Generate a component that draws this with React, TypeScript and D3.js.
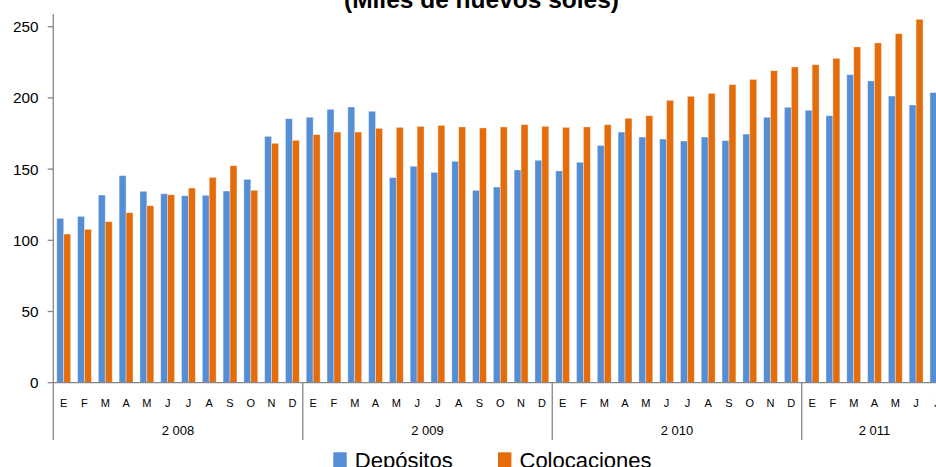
import React from "react";
import * as d3 from "d3";

const months = ["E", "F", "M", "A", "M", "J", "J", "A", "S", "O", "N", "D"];
const years = ["2 008", "2 009", "2 010", "2 011"];
const monthsPerYear = [12, 12, 12, 7];
const yTicks = [0, 50, 100, 150, 200, 250];
const seriesNames = ["Depósitos", "Colocaciones"];

const depositos = [
  115.4, 116.8, 131.8, 145.4, 134.4, 132.7, 131.3, 131.6, 134.6, 142.8, 173.0, 185.4,
  186.4, 192.0, 193.6, 190.6, 144.0, 152.0, 147.7, 155.5, 135.1, 137.4, 149.4, 156.2,
  148.7, 154.8, 166.6, 176.0, 172.5, 171.1, 169.7, 172.5, 170.0, 174.6, 186.4, 193.4,
  191.3, 187.5, 216.3, 211.9, 201.3, 195.0, 203.7,
];
const colocaciones = [
  104.4, 107.7, 113.1, 119.4, 124.3, 132.0, 136.7, 144.2, 152.4, 135.1, 168.1, 170.2,
  174.2, 176.0, 176.0, 178.6, 179.3, 180.0, 180.7, 179.6, 178.9, 179.6, 181.2, 180.0,
  179.3, 179.6, 181.2, 185.7, 187.5, 198.3, 201.1, 203.2, 209.3, 213.0, 219.1, 221.7,
  223.3, 227.8, 235.8, 238.6, 245.1, 255.2, 258.0,
];

const W = 936;
const H = 467;
const colors = ["#558ED5", "#E46C0A"];
const axisColor = "#868686";
const font = "'Liberation Sans', Arial, sans-serif";

export default function App() {
  const n = depositos.length;
  const left = 53.3;
  const step = 20.79;
  const right = left + n * step;
  const y0 = 382.7;
  const yTop = 26.7;

  const x = d3
    .scaleBand<number>()
    .domain(d3.range(n))
    .range([left, right])
    .paddingInner(1 / 3)
    .paddingOuter(1 / 6);
  const xs = d3.scaleBand<number>().domain([0, 1]).range([0, x.bandwidth()]);
  const y = d3.scaleLinear().domain([0, 250]).range([y0, yTop]);

  const data = [depositos, colocaciones];
  const catLabels: { label: string; idx: number }[] = [];
  monthsPerYear.forEach((m, yi) => {
    for (let k = 0; k < m; k++) catLabels.push({ label: months[k], idx: yi * 12 + k });
  });
  const yearStarts = monthsPerYear.map((_, i) => d3.sum(monthsPerYear.slice(0, i)));

  const catCenter = (i: number) => left + (i + 0.5) * step;
  const boundary = (i: number) => left + i * step;

  return (
    <svg
      width={W}
      height={H}
      style={{ position: "absolute", left: 0, top: 0, background: "#fff" }}
    >
      <text
        x={481.5}
        y={7.8}
        textAnchor="middle"
        fontFamily={font}
        fontWeight="bold"
        fontSize={24.5}
        fill="#000"
      >
        (Miles de nuevos soles)
      </text>

      {data.map((series, si) =>
        series.map((v, i) => (
          <rect
            key={`${si}-${i}`}
            x={(x(i) as number) + (xs(si) as number)}
            y={y(v)}
            width={xs.bandwidth()}
            height={y0 - y(v)}
            fill={colors[si]}
            stroke="rgba(255,255,255,0.45)"
            strokeWidth={0.8}
          />
        ))
      )}

      {/* y axis */}
      <line x1={left} x2={left} y1={14} y2={440} stroke={axisColor} strokeWidth={1.3} />
      {yTicks.map((t) => (
        <g key={t}>
          <line x1={47.7} x2={left} y1={y(t)} y2={y(t)} stroke={axisColor} strokeWidth={1.3} />
          <text
            x={38.5}
            y={y(t)}
            dy="0.36em"
            textAnchor="end"
            fontFamily={font}
            fontSize={15.3}
            fill="#000"
          >
            {t}
          </text>
        </g>
      ))}

      {/* x axis */}
      <line x1={left} x2={right} y1={y0} y2={y0} stroke={axisColor} strokeWidth={1.3} />
      {yearStarts.map((s, i) =>
        i === 0 ? null : (
          <line
            key={i}
            x1={boundary(s)}
            x2={boundary(s)}
            y1={y0}
            y2={440}
            stroke={axisColor}
            strokeWidth={1.3}
          />
        )
      )}
      {catLabels.map((c) => (
        <text
          key={c.idx}
          x={catCenter(c.idx)}
          y={406.7}
          textAnchor="middle"
          fontFamily={font}
          fontSize={11}
          fill="#000"
        >
          {c.label}
        </text>
      ))}
      {years.map((yl, i) => (
        <text
          key={yl}
          x={(boundary(yearStarts[i]) + boundary(yearStarts[i] + (i < 3 ? 12 : monthsPerYear[i]))) / 2}
          y={435}
          textAnchor="middle"
          fontFamily={font}
          fontSize={13}
          fill="#000"
        >
          {yl}
        </text>
      ))}

      {/* legend */}
      {seriesNames.map((s, i) => {
        const lx = [333.3, 498][i];
        return (
          <g key={s}>
            <rect x={lx} y={452.3} width={13.4} height={15} fill={colors[i]} />
            <text x={lx + 21.5} y={468} fontFamily={font} fontSize={22} fill="#000">
              {s}
            </text>
          </g>
        );
      })}
    </svg>
  );
}
